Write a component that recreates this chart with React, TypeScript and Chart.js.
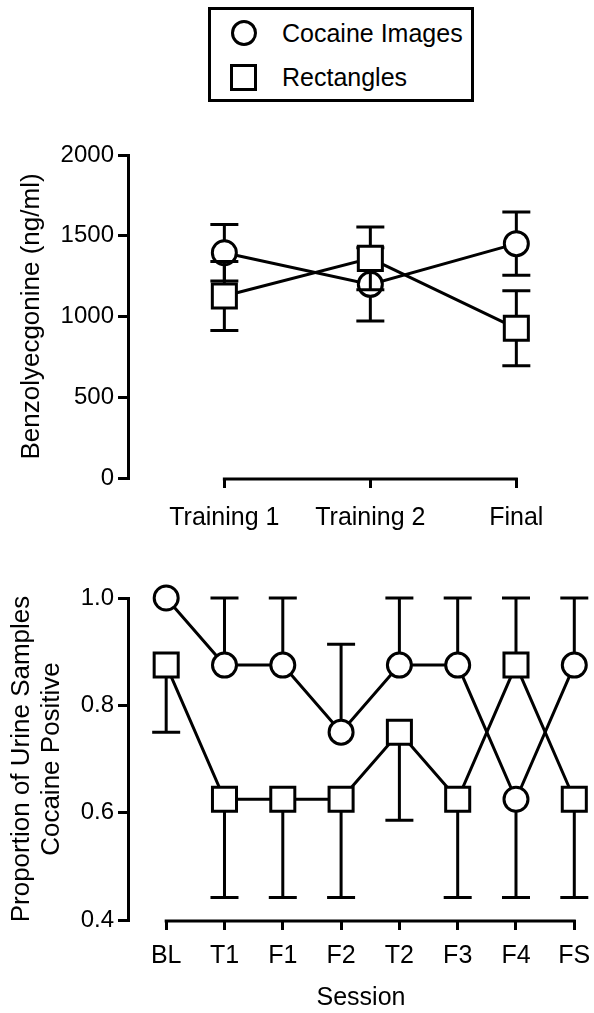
import React, { useEffect, useRef } from 'react';
import { Chart, registerables } from 'chart.js';

Chart.register(...registerables);

const FONT = "'Liberation Sans', Arial, Helvetica, sans-serif";

// ---------- Legend ----------
const seriesNames = ['Cocaine Images', 'Rectangles'];

// ---------- Top chart (Benzoylecgonine) ----------
const topCategories = ['Training 1', 'Training 2', 'Final'];
const topCocaine = [1395, 1199, 1451];
const topCocaineErr = [175, 227, 196];
const topRect = [1127, 1360, 927];
const topRectErr = [214, 194, 232];
const topYTicks = [0, 500, 1000, 1500, 2000];
const topYTitle = 'Benzolyecgonine (ng/ml)';

// ---------- Bottom chart (Proportion positive) ----------
const bottomCategories = ['BL', 'T1', 'F1', 'F2', 'T2', 'F3', 'F4', 'FS'];
const bottomCocaine = [1.0, 0.875, 0.875, 0.75, 0.875, 0.875, 0.625, 0.875];
const bottomCocaineErrUp = [0, 0.125, 0.125, 0.164, 0.125, 0.125, 0, 0.125];
const bottomCocaineErrDown = [0, 0, 0, 0, 0, 0, 0.183, 0];
const bottomRect = [0.875, 0.625, 0.625, 0.625, 0.75, 0.625, 0.875, 0.625];
const bottomRectErrUp = [0, 0, 0, 0, 0, 0, 0.125, 0];
const bottomRectErrDown = [0.125, 0.183, 0.183, 0.183, 0.164, 0.183, 0, 0.183];
const bottomYTicks = [0.4, 0.6, 0.8, 1.0];
const bottomYTitle = ['Proportion of Urine Samples', 'Cocaine Positive'];
const bottomXTitle = 'Session';

const errorBarPlugin = {
  id: 'errorBars',
  beforeDatasetDraw(chart: any, args: any) {
    const ds: any = chart.data.datasets[args.index];
    const up: number[] | undefined = ds.errUp;
    const down: number[] | undefined = ds.errDown;
    if (!up && !down) return;
    const ctx = chart.ctx;
    const ys = chart.scales.y;
    ctx.save();
    ctx.strokeStyle = '#000';
    ctx.lineWidth = 3;
    args.meta.data.forEach((pt: any, i: number) => {
      const v = ds.data[i].y;
      const x = pt.x;
      const y0 = ys.getPixelForValue(v);
      const parts: [number | undefined, number][] = [
        [up ? up[i] : undefined, 1],
        [down ? down[i] : undefined, -1],
      ];
      parts.forEach(([e, s]) => {
        if (!e) return;
        const y1 = ys.getPixelForValue(v + s * e);
        ctx.beginPath();
        ctx.moveTo(x, y0);
        ctx.lineTo(x, y1);
        ctx.moveTo(x - 14, y1);
        ctx.lineTo(x + 14, y1);
        ctx.stroke();
      });
    });
    ctx.restore();
  },
};

const xAxisLinePlugin = {
  id: 'xAxisLine',
  beforeDatasetsDraw(chart: any) {
    const xs = chart.scales.x;
    const n = chart.data.datasets[0].data.length;
    const y = chart.chartArea.bottom + 1;
    const ctx = chart.ctx;
    ctx.save();
    ctx.strokeStyle = '#000';
    ctx.lineWidth = 3;
    ctx.beginPath();
    ctx.moveTo(xs.getPixelForValue(0) - 1.5, y);
    ctx.lineTo(xs.getPixelForValue(n - 1) + 1.5, y);
    ctx.stroke();
    ctx.restore();
  },
};

function makeDatasets(
  cocaine: number[],
  rect: number[],
  cUp: number[],
  cDown: number[],
  rUp: number[],
  rDown: number[]
) {
  const common = {
    borderColor: '#000',
    borderWidth: 3,
    pointBackgroundColor: '#fff',
    pointBorderColor: '#000',
    pointBorderWidth: 3,
    tension: 0,
    clip: false as any,
    fill: false,
  };
  return [
    {
      ...common,
      label: seriesNames[0],
      data: cocaine.map((y, i) => ({ x: i, y })),
      pointStyle: 'circle',
      pointRadius: 12,
      order: 1,
      errUp: cUp,
      errDown: cDown,
    },
    {
      ...common,
      label: seriesNames[1],
      data: rect.map((y, i) => ({ x: i, y })),
      pointStyle: 'rect',
      pointRadius: 17,
      order: 0,
      errUp: rUp,
      errDown: rDown,
    },
  ];
}

interface PanelProps {
  width: number;
  height: number;
  padTop: number;
  xScaleHeight: number;
  yAxisWidth: number;
  categories: string[];
  xMin: number;
  xMax: number;
  yMin: number;
  yMax: number;
  yTicks: number[];
  yFormat: (v: number) => string;
  yTitle: string | string[];
  yTitlePad: number;
  yTitleLineHeight: number;
  xTitle?: string;
  xTickPadding: number;
  datasets: any[];
}

function Panel(p: PanelProps) {
  const ref = useRef<HTMLCanvasElement | null>(null);
  useEffect(() => {
    if (!ref.current) return;
    const chart = new Chart(ref.current, {
      type: 'line',
      data: { datasets: p.datasets },
      plugins: [errorBarPlugin, xAxisLinePlugin],
      options: {
        responsive: false,
        maintainAspectRatio: false,
        animation: false,
        events: [],
        devicePixelRatio: 1,
        layout: { autoPadding: false, padding: { top: p.padTop, left: 0, right: 0, bottom: 0 } },
        plugins: {
          legend: { display: false },
          tooltip: { enabled: false },
          title: { display: false },
        },
        scales: {
          x: {
            type: 'linear',
            min: p.xMin,
            max: p.xMax,
            afterBuildTicks: (scale: any) => {
              scale.ticks = p.categories.map((_, i) => ({ value: i }));
            },
            afterFit: (scale: any) => {
              scale.height = p.xScaleHeight;
              scale.paddingLeft = 0;
              scale.paddingRight = 0;
            },
            border: { display: false },
            grid: {
              drawOnChartArea: false,
              drawTicks: true,
              tickLength: 10,
              lineWidth: 3,
              color: '#000',
            },
            ticks: {
              color: '#000',
              font: { family: FONT, size: 25 },
              padding: p.xTickPadding,
              maxRotation: 0,
              autoSkip: false,
              callback: (v: any) => p.categories[Math.round(Number(v))] ?? '',
            },
            title: p.xTitle
              ? {
                  display: true,
                  text: p.xTitle,
                  color: '#000',
                  font: { family: FONT, size: 25 },
                  padding: { top: 0, bottom: 0 },
                }
              : { display: false },
          },
          y: {
            type: 'linear',
            min: p.yMin,
            max: p.yMax,
            afterBuildTicks: (scale: any) => {
              scale.ticks = p.yTicks.map((v) => ({ value: v }));
            },
            afterFit: (scale: any) => {
              scale.width = p.yAxisWidth;
            },
            border: { display: true, color: '#000', width: 3 },
            grid: {
              drawOnChartArea: false,
              drawTicks: true,
              tickLength: 10,
              lineWidth: 3,
              color: '#000',
            },
            ticks: {
              color: '#000',
              font: { family: FONT, size: 24 },
              padding: 4,
              callback: (v: any) => p.yFormat(Number(v)),
            },
            title: {
              display: true,
              text: p.yTitle,
              color: '#000',
              font: { family: FONT, size: 26, lineHeight: p.yTitleLineHeight },
              padding: { top: p.yTitlePad, bottom: 0 },
            },
          },
        },
      } as any,
    });
    return () => chart.destroy();
  }, []);
  return <canvas ref={ref} width={p.width} height={p.height} style={{ display: 'block' }} />;
}

function Legend() {
  const row = (mark: React.ReactNode, text: string) => (
    <div style={{ display: 'flex', alignItems: 'center', height: 44 }}>
      <div style={{ width: 27, marginLeft: 19, display: 'flex', justifyContent: 'center' }}>{mark}</div>
      <span style={{ marginLeft: 25, fontSize: 25, lineHeight: '25px', whiteSpace: 'nowrap' }}>{text}</span>
    </div>
  );
  return (
    <div
      style={{
        position: 'absolute',
        left: 208,
        top: 7,
        width: 266,
        height: 95,
        boxSizing: 'border-box',
        border: '3px solid #000',
        padding: '1px 0 0 0',
        fontFamily: FONT,
        color: '#000',
      }}
    >
      {row(
        <div style={{ width: 20, height: 20, border: '3px solid #000', borderRadius: '50%' }} />,
        seriesNames[0]
      )}
      {row(<div style={{ width: 21, height: 21, border: '3px solid #000' }} />, seriesNames[1])}
    </div>
  );
}

export default function App() {
  useEffect(() => {
    document.body.style.margin = '0';
  }, []);
  return (
    <div style={{ position: 'relative', width: 594, height: 1013, background: '#fff', overflow: 'hidden' }}>
      <Legend />
      <div style={{ position: 'absolute', left: 0, top: 110 }}>
        <Panel
          width={594}
          height={440}
          padTop={45}
          xScaleHeight={72}
          yAxisWidth={128}
          categories={topCategories}
          xMin={-0.66}
          xMax={2.532}
          yMin={0}
          yMax={2000}
          yTicks={topYTicks}
          yFormat={(v) => String(v)}
          yTitle={topYTitle}
          yTitlePad={16}
          yTitleLineHeight={1.2}
          xTickPadding={15}
          datasets={makeDatasets(topCocaine, topRect, topCocaineErr, topCocaineErr, topRectErr, topRectErr)}
        />
      </div>
      <div style={{ position: 'absolute', left: 0, top: 550 }}>
        <Panel
          width={594}
          height={463}
          padTop={48}
          xScaleHeight={93}
          yAxisWidth={128}
          categories={bottomCategories}
          xMin={-0.655}
          xMax={7.338}
          yMin={0.4}
          yMax={1.0}
          yTicks={bottomYTicks}
          yFormat={(v) => v.toFixed(1)}
          yTitle={bottomYTitle}
          yTitlePad={7}
          yTitleLineHeight={1.154}
          xTitle={bottomXTitle}
          xTickPadding={11}
          datasets={makeDatasets(
            bottomCocaine,
            bottomRect,
            bottomCocaineErrUp,
            bottomCocaineErrDown,
            bottomRectErrUp,
            bottomRectErrDown
          )}
        />
      </div>
    </div>
  );
}
